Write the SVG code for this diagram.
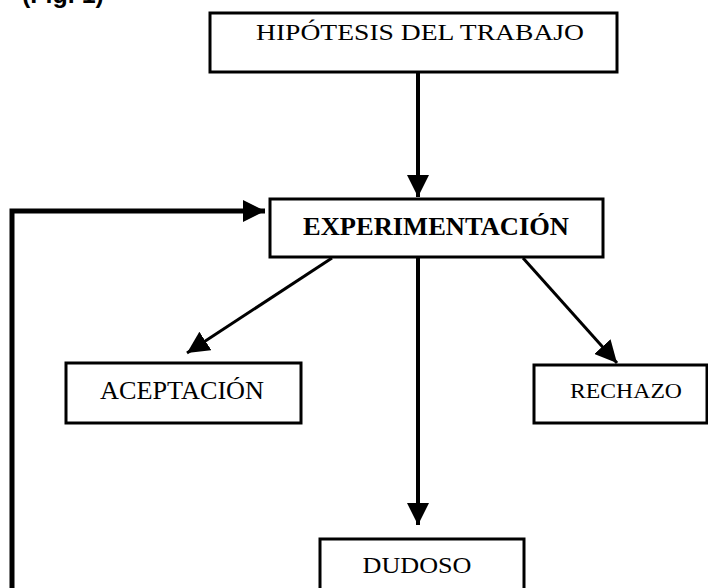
<svg xmlns="http://www.w3.org/2000/svg" width="708" height="588" viewBox="0 0 708 588">
<style>
.box{fill:#fff;stroke:#000;stroke-width:3}
.t{font-family:"Liberation Serif","Times New Roman",serif;fill:#000;text-anchor:middle}
.b{font-weight:bold}
.c{fill:none;stroke:#000}
</style>
<defs>
<marker id="ah" markerUnits="userSpaceOnUse" markerWidth="22" markerHeight="22" viewBox="0 0 22 22" refX="22" refY="11" orient="auto">
<path d="M0,0 L22,11 L0,22 Z" fill="#000"/>
</marker>
</defs>
<text x="22" y="3" style="font-family:'Liberation Sans',Arial,sans-serif;font-weight:bold;font-size:25px">(Fig. 1)</text>
<g id="connectors">
<line class="c" x1="418" y1="72" x2="418" y2="197" stroke-width="4" marker-end="url(#ah)"/>
<polyline class="c" points="12,588 12,211 265,211" stroke-width="5" marker-end="url(#ah)"/>
<line class="c" x1="332" y1="258" x2="187" y2="353" stroke-width="3" marker-end="url(#ah)"/>
<line class="c" x1="523" y1="258" x2="617" y2="363" stroke-width="3" marker-end="url(#ah)"/>
<line class="c" x1="418" y1="257" x2="418" y2="525" stroke-width="4" marker-end="url(#ah)"/>
</g>
<g id="hipotesis">
<rect class="box" x="210" y="13" width="407" height="59"/>
<text class="t" x="420" y="40" style="font-size:23px" textLength="328" lengthAdjust="spacingAndGlyphs">HIPÓTESIS DEL TRABAJO</text>
</g>
<g id="experimentacion">
<rect class="box" x="270" y="199" width="333" height="58"/>
<text class="t b" x="436" y="235" style="font-size:25px" textLength="266" lengthAdjust="spacingAndGlyphs">EXPERIMENTACIÓN</text>
</g>
<g id="aceptacion">
<rect class="box" x="66" y="363" width="235" height="60"/>
<text class="t" x="182" y="399" style="font-size:25px" textLength="164" lengthAdjust="spacingAndGlyphs">ACEPTACIÓN</text>
</g>
<g id="rechazo">
<rect class="box" x="534" y="365" width="173" height="58"/>
<text class="t" x="626" y="398" style="font-size:21px" textLength="112" lengthAdjust="spacingAndGlyphs">RECHAZO</text>
</g>
<g id="dudoso">
<rect class="box" x="320" y="539" width="204" height="60"/>
<text class="t" x="417" y="573" style="font-size:24px" textLength="109" lengthAdjust="spacingAndGlyphs">DUDOSO</text>
</g>
</svg>
